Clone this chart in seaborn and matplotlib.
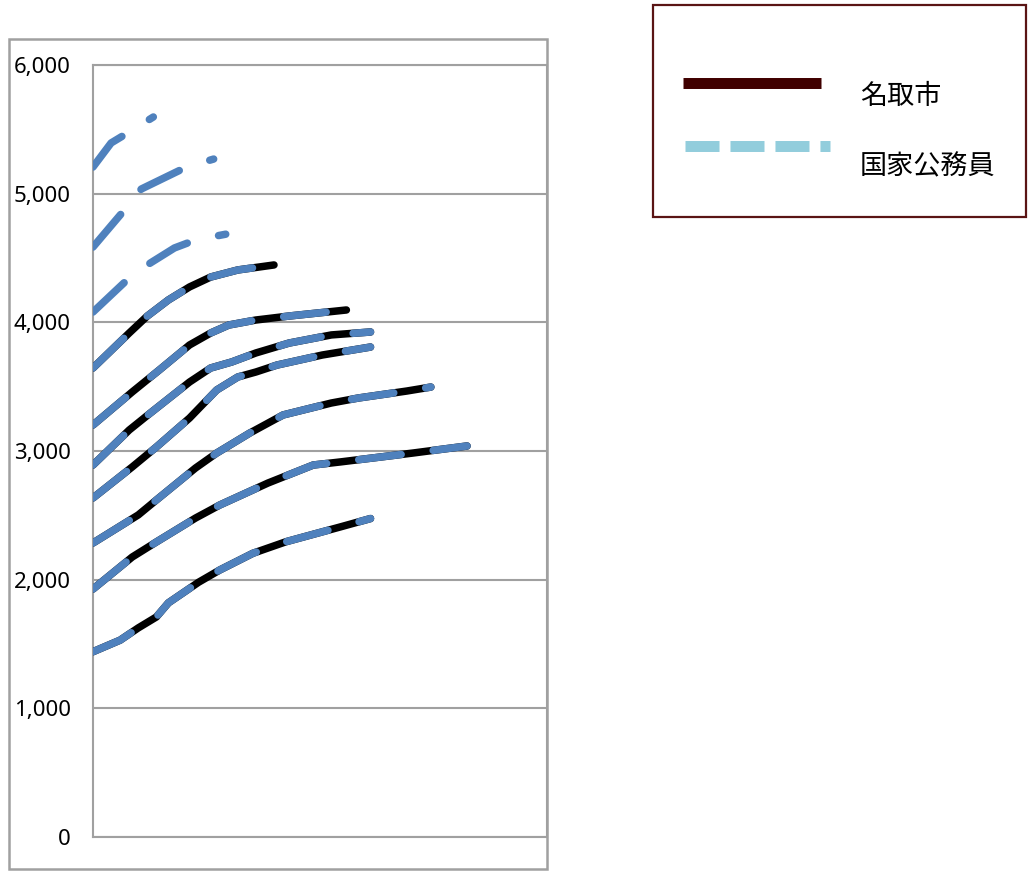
import matplotlib
matplotlib.use("Agg")
import matplotlib.pyplot as plt
from matplotlib.lines import Line2D
from matplotlib.patches import Rectangle
from matplotlib.ticker import FuncFormatter
import seaborn as sns
import pandas as pd

# ---- data: (号給 step, 俸給 value) ----
grade1_steps = [1, 10, 16, 22, 26, 36, 43, 54, 65, 83, 93]
grade1_vals = [1440, 1530, 1625, 1710, 1820, 1980, 2075, 2205, 2295, 2410, 2475]
grade2_steps = [1, 14, 22, 35, 43, 59, 74, 83, 107, 125]
grade2_vals = [1927, 2176, 2293, 2479, 2580, 2751, 2891, 2915, 2984, 3039]
grade3_steps = [1, 16, 22, 35, 42, 53, 64, 80, 89, 105, 113]
grade3_vals = [2285, 2503, 2619, 2868, 2984, 3140, 3280, 3373, 3412, 3466, 3497]
grade4_steps = [1, 14, 22, 33, 42, 49, 55, 62, 77, 93]
grade4_vals = [2635, 2876, 3031, 3256, 3474, 3575, 3614, 3668, 3746, 3808]
grade5_steps = [1, 13, 20, 33, 40, 47, 55, 66, 80, 93]
grade5_vals = [2891, 3163, 3295, 3536, 3645, 3692, 3762, 3839, 3902, 3925]
grade6_steps = [1, 14, 23, 33, 40, 46, 55, 66, 85]
grade6_vals = [3202, 3459, 3630, 3824, 3917, 3979, 4018, 4049, 4096]
grade7_steps = [1, 13, 19, 26, 33, 40, 49, 61]
grade7_vals = [3645, 3917, 4049, 4174, 4275, 4352, 4407, 4446]
grade8_steps = [1, 13, 20, 28, 35, 45]
grade8_vals = [4080, 4345, 4461, 4578, 4640, 4685]
grade9_steps = [1, 12, 17, 32, 41]
grade9_vals = [4585, 4889, 5036, 5207, 5269]
grade10_steps = [1, 7, 13, 21]
grade10_vals = [5207, 5394, 5479, 5596]

y_ticks = [0, 1000, 2000, 3000, 4000, 5000, 6000]
legend_labels = ["名取市", "国家公務員"]

natori = [(grade1_steps, grade1_vals), (grade2_steps, grade2_vals),
          (grade3_steps, grade3_vals), (grade4_steps, grade4_vals),
          (grade5_steps, grade5_vals), (grade6_steps, grade6_vals),
          (grade7_steps, grade7_vals)]
kokka = natori + [(grade8_steps, grade8_vals), (grade9_steps, grade9_vals),
                  (grade10_steps, grade10_vals)]

W, H = 1028, 871
fig = plt.figure(figsize=(W / 100, H / 100), dpi=100)
sns.set_style("white")
plt.rcParams['font.family'] = ['Noto Sans', 'DejaVu Sans']

ax = fig.add_axes([93 / W, 1 - 837 / H, (547 - 93) / W, (837 - 65) / H])

GRAY = "#A0A0A0"
BLUE = "#4F81BD"

for s, v in natori:
    df = pd.DataFrame({"step": s, "value": v})
    sns.lineplot(data=df, x="step", y="value", ax=ax, color="black",
                 lw=5.4, solid_capstyle="round", solid_joinstyle="round",
                 estimator=None, sort=True, zorder=3)
for s, v in kokka:
    df = pd.DataFrame({"step": s, "value": v})
    sns.lineplot(data=df, x="step", y="value", ax=ax, color=BLUE,
                 lw=5.4, linestyle=(0, (5.7, 4.3)), dash_capstyle="round",
                 dash_joinstyle="round", estimator=None, sort=True, zorder=4)

ax.set_xlim(1, 151.5)
ax.set_ylim(0, 6000)
ax.set_yticks(y_ticks)
ax.yaxis.set_major_formatter(FuncFormatter(lambda v, p: f"{int(v):,}"))
ax.set_xticks([])
ax.set_xlabel("")
ax.set_ylabel("")
ax.grid(axis="y", color=GRAY, lw=1.5)
ax.set_axisbelow(True)
ax.tick_params(axis="y", length=0, pad=16, labelsize=16, labelcolor="black")
for sp in ax.spines.values():
    sp.set_visible(True)
    sp.set_color(GRAY)
    sp.set_linewidth(1.5)

# outer chart frame
fig.patches.append(Rectangle((9 / W, 1 - 869 / H), 538 / W, 830 / H,
                             transform=fig.transFigure, fill=False,
                             edgecolor=GRAY, lw=1.8, zorder=0))

# legend box
fig.patches.append(Rectangle((653 / W, 1 - 217 / H), 373 / W, 212 / H,
                             transform=fig.transFigure, fill=False,
                             edgecolor="#5A1414", lw=1.6))
fig.lines.append(Line2D([683 / W, 821 / W], [1 - 83 / H] * 2,
                        transform=fig.transFigure, color="#400000",
                        lw=7.9, solid_capstyle="butt"))
fig.lines.append(Line2D([685 / W, 830 / W], [1 - 146.5 / H] * 2,
                        transform=fig.transFigure, color="#92CDDC",
                        lw=7.9, linestyle=(0, (3.1, 1.0)),
                        dash_capstyle="butt"))
cjk = ['Noto Sans CJK JP', 'DejaVu Sans']
fig.text(860 / W, 1 - 96 / H, legend_labels[0], family=cjk, fontsize=19.5,
         va="center", ha="left", color="black")
fig.text(860 / W, 1 - 167 / H, legend_labels[1], family=cjk, fontsize=19.5,
         va="center", ha="left", color="black")

fig.savefig("out.png", dpi=100)
